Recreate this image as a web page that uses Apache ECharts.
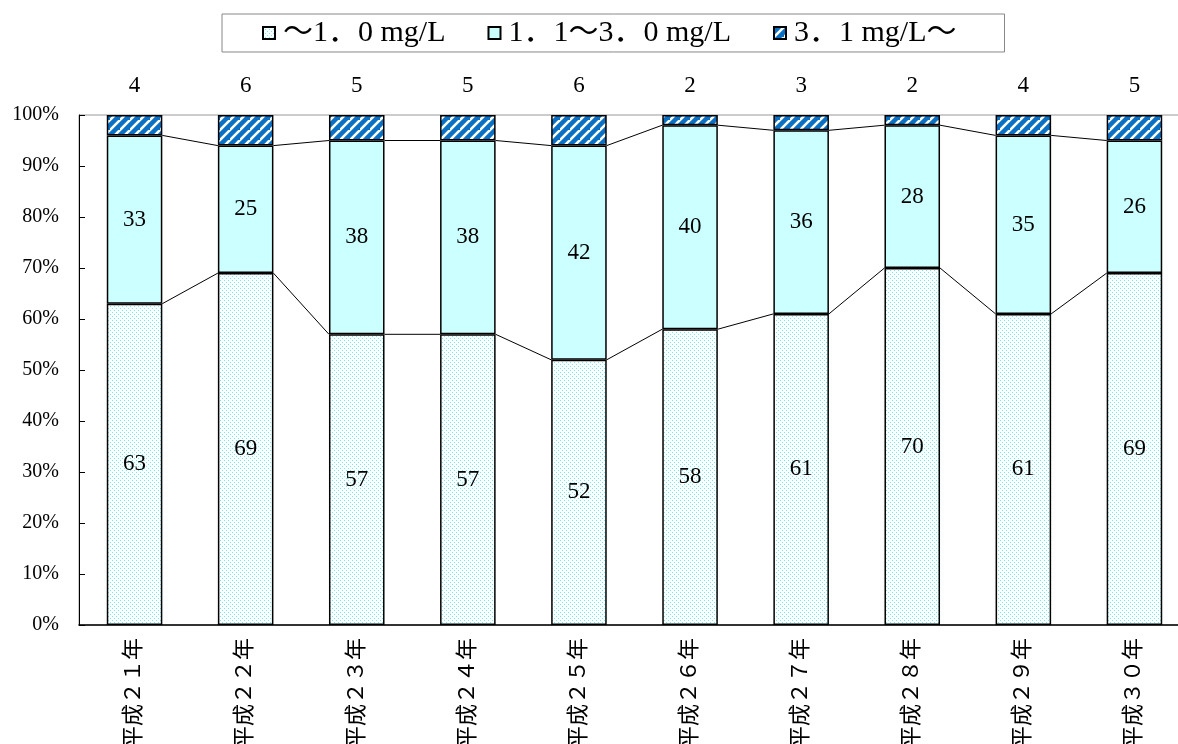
<!DOCTYPE html>
<html><head><meta charset="utf-8">
<script src="https://cdn.jsdelivr.net/npm/echarts@6/dist/echarts.min.js"></script>
<style>html,body{margin:0;padding:0;background:#fff}#c{width:1178px;height:744px}</style>
</head><body><div id="c"></div>
<script>
const categories = ['平成２１年','平成２２年','平成２３年','平成２４年','平成２５年','平成２６年','平成２７年','平成２８年','平成２９年','平成３０年'];
const seriesNames = ['～1．0 mg/L','1．1～3．0 mg/L','3．1 mg/L～'];
const low = [63,69,57,57,52,58,61,70,61,69];
const mid = [33,25,38,38,42,40,36,28,35,26];
const high = [4,6,5,5,6,2,3,2,4,5];

const FONT = "'Liberation Serif','Noto Sans CJK JP',serif";

function dotPattern(){
  const c = document.createElement('canvas'); c.width = 4; c.height = 4;
  const g = c.getContext('2d');
  g.fillStyle = '#ffffff'; g.fillRect(0,0,4,4);
  g.fillStyle = '#5ff2f8';
  g.fillRect(0,0,1,1); g.fillRect(2,2,1,1);
  return c;
}
function stripePattern(){
  const s = 10;
  const c = document.createElement('canvas'); c.width = s; c.height = s;
  const g = c.getContext('2d');
  g.fillStyle = '#0a70c4'; g.fillRect(0,0,s,s);
  g.strokeStyle = '#ffffff'; g.lineWidth = 2.6;
  g.beginPath();
  g.moveTo(-2, s+2); g.lineTo(s+2, -2);
  g.moveTo(-2 - s, s+2); g.lineTo(2, -2);
  g.moveTo(s-2, 2*s+2); g.lineTo(2*s+2, s-2);
  g.stroke();
  return c;
}

const cum1 = low.map((v,i)=>v);
const cum2 = low.map((v,i)=>v+mid[i]);

function seriesLine(cum){
  return {
    type:'custom', silent:true, z:5,
    data: cum.map((v,i)=>[i,v]),
    renderItem: function(params, api){
      const i = api.value(0);
      if (i >= cum.length-1) return null;
      const p1 = api.coord([i, cum[i]]);
      const p2 = api.coord([i+1, cum[i+1]]);
      const hw = api.size([1,0])[0]*0.25;
      return {type:'line', shape:{x1:p1[0]+hw, y1:p1[1], x2:p2[0]-hw, y2:p2[1]},
        style:{stroke:'#000', lineWidth:1}};
    }
  };
}

const labelStyle = {show:true, position:'inside', color:'#000', fontSize:23, fontFamily:FONT};
const itemBase = {borderColor:'#000', borderWidth:1.5};

const chart = echarts.init(document.getElementById('c'));
chart.setOption({
  animation:false,
  backgroundColor:'#fff',
  legend:{
    data:seriesNames, left:222, top:14,
    padding:[4,48,4,40], itemGap:42, itemWidth:12, itemHeight:12, icon:'rect',
    borderColor:'#888', borderWidth:1,
    textStyle:{fontSize:30, fontFamily:FONT, color:'#000', padding:[0,0,0,3]},
    selectedMode:false
  },
  grid:{left:79, top:115, width:1111, height:510, show:true, borderColor:'#999', borderWidth:1, containLabel:false, outerBoundsMode:'none'},
  xAxis:{
    type:'category', data:categories,
    axisLine:{lineStyle:{color:'#000', width:1.5}},
    axisTick:{show:false},
    axisLabel:{rotate:90, interval:0, margin:13, fontSize:22, fontFamily:FONT, color:'#000'}
  },
  yAxis:{
    type:'value', min:0, max:100, interval:10,
    axisLine:{show:true, lineStyle:{color:'#000', width:1}},
    axisTick:{show:true, inside:true, length:6, lineStyle:{color:'#000'}},
    splitLine:{show:false},
    axisLabel:{formatter:'{value}%', fontSize:20, fontFamily:FONT, color:'#000', margin:20}
  },
  series:[
    {name:seriesNames[0], type:'bar', stack:'s', barWidth:'50%', data:low,
      itemStyle:Object.assign({color:{image:dotPattern(), repeat:'repeat'}}, itemBase),
      label:labelStyle},
    {name:seriesNames[1], type:'bar', stack:'s', barWidth:'50%', data:mid,
      itemStyle:Object.assign({color:'#ccffff'}, itemBase),
      label:labelStyle},
    {name:seriesNames[2], type:'bar', stack:'s', barWidth:'50%', data:high,
      itemStyle:Object.assign({color:{image:stripePattern(), repeat:'repeat'}}, itemBase),
      label:{show:true, position:'top', distance:18, color:'#000', fontSize:23, fontFamily:FONT}},
    seriesLine(cum1),
    seriesLine(cum2)
  ]
});
</script>
</body></html>
